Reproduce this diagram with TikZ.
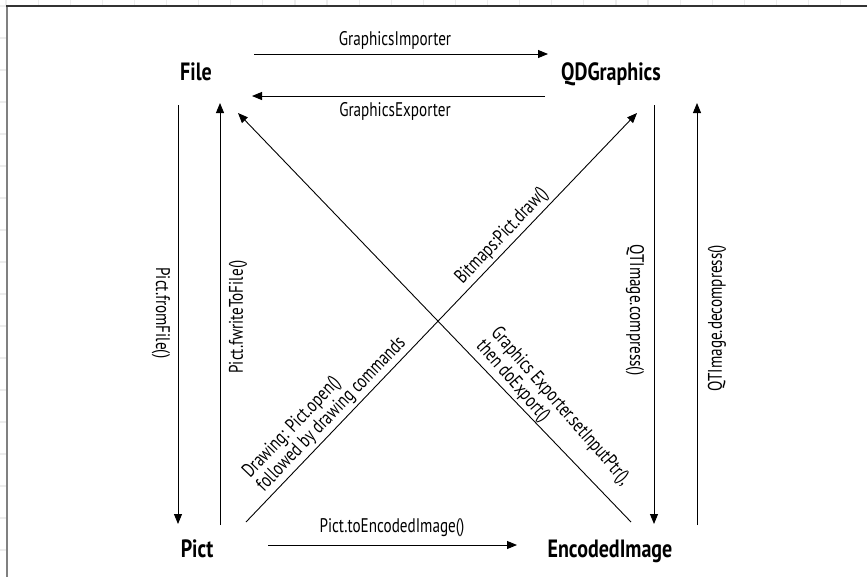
\documentclass[tikz,border=0pt]{standalone}
\usepackage{fontspec}
\setmainfont{PT Sans}[FakeStretch=0.77]
\newfontfamily\titlefont{PT Sans}[FakeStretch=0.8]
\usetikzlibrary{arrows.meta}
\begin{document}
\begin{tikzpicture}[x=1pt,y=-1pt,
  title/.style={font=\titlefont\fontsize{25}{27}\selectfont\bfseries, inner sep=0pt, anchor=base},
  lbl/.style={font=\fontsize{19.7}{19.5}\selectfont, inner sep=3pt},
  conn/.style={line width=0.9pt, -{Triangle[length=10pt,width=8pt]}},
  gridline/.style={line width=1.2pt, draw=black!7}]
\useasboundingbox (0,0) rectangle (867,576);
% faint grid in margins
\foreach \k in {0,...,26} {\draw[gridline] (6+32.1*\k,0) -- (6+32.1*\k,5);}
\foreach \k in {0,...,17} {\draw[gridline] (0,6+32*\k) -- (6,6+32*\k);}
% frame
\draw[line width=2pt, draw=black!50] (7,580) -- (7,6);
\draw[line width=2pt, draw=black!80] (6,6) -- (870,6);

% main nodes
\node[title] (file) at (196,80) {File};
\node[title] (qd) at (611,80) {QDGraphics};
\node[title] (pict) at (197,557) {Pict};
\node[title] (enc) at (610,557) {EncodedImage};

% connector end points
\coordinate (imA) at (254,54);  \coordinate (imB) at (548,54);
\coordinate (exA) at (545,96);  \coordinate (exB) at (252,96);
\coordinate (ffA) at (178,105); \coordinate (ffB) at (178,524);
\coordinate (fwA) at (220,525); \coordinate (fwB) at (220,103);
\coordinate (cpA) at (654,105); \coordinate (cpB) at (654,524);
\coordinate (dcA) at (697,525); \coordinate (dcB) at (697,103);
\coordinate (teA) at (268,545); \coordinate (teB) at (517,545);
\coordinate (d1A) at (631,522); \coordinate (d1B) at (238,113);
\coordinate (d2A) at (246,522); \coordinate (d2B) at (637,113);

% connectors
\draw[conn] (imA) -- (imB);
\draw[conn] (exA) -- (exB);
\draw[conn] (ffA) -- (ffB);
\draw[conn] (fwA) -- (fwB);
\draw[conn] (cpA) -- (cpB);
\draw[conn] (dcA) -- (dcB);
\draw[conn] (teA) -- (teB);
\draw[conn] (d1A) -- (d1B);
\draw[conn] (d2A) -- (d2B);

% horizontal labels
\node[lbl, anchor=base, inner sep=0pt] (limp) at (395,45) {GraphicsImporter};
\node[lbl, anchor=base, inner sep=0pt] (lexp) at (395,116) {GraphicsExporter};
\node[lbl, anchor=base, inner sep=0pt] (lte) at (392,532) {Pict.toEncodedImage()};

% vertical labels
\node[lbl, rotate=-90] (lff) at (161,313) {Pict.fromFile()};
\node[lbl, rotate=90] (lfw) at (238,317) {Pict.fwriteToFile()};
\node[lbl, rotate=-90] (lcp) at (635,310) {QTImage.compress()};
\node[lbl, rotate=90] (ldc) at (717,318) {QTImage.decompress()};

% diagonal labels
\path (d2A) -- (d2B)
  node[lbl, pos=0.242, sloped, above, align=left] (ldraw) {Drawing: Pict.open()\\followed by drawing commands}
  node[lbl, pos=0.678, sloped, above] (lbmp) {Bitmaps:Pict.draw()};
\node[lbl, rotate=-49, align=left] (lgex) at (553,413) {Graphics Exporter.setInputPtr(),\\then doExport()};
\end{tikzpicture}
\end{document}
